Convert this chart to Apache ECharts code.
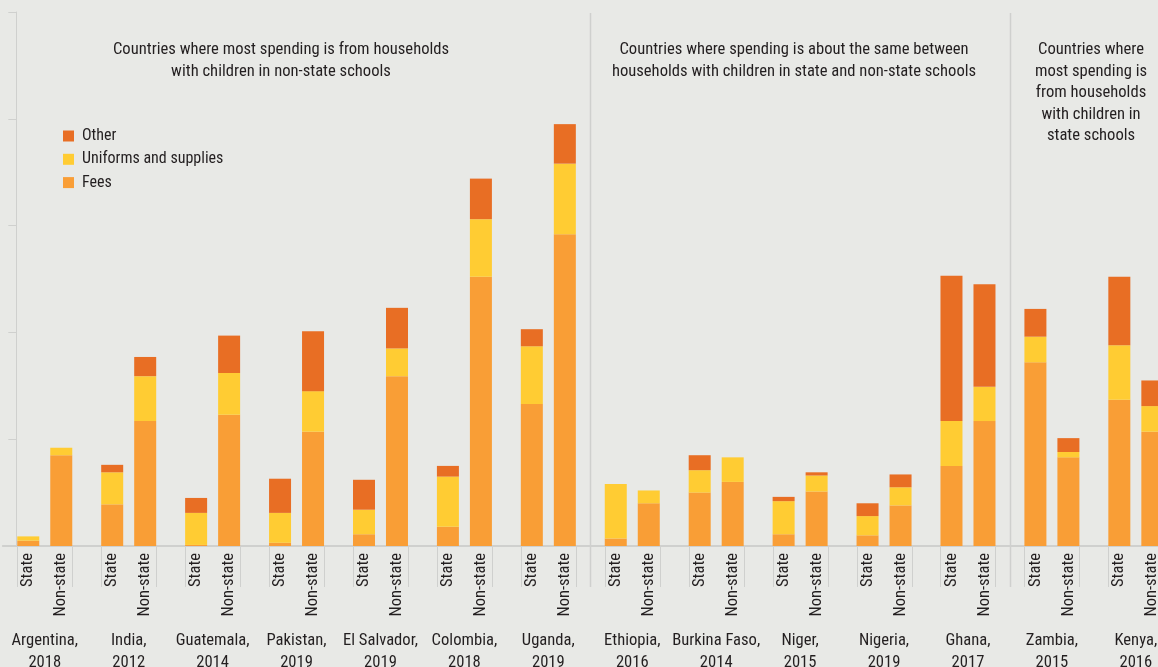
<!DOCTYPE html>
<html><head><meta charset="utf-8">
<script src="https://cdn.jsdelivr.net/npm/echarts@6/dist/echarts.min.js"></script>
<style>html,body{margin:0;padding:0;background:#e8e9e6;}#c{width:1158px;height:667px;}</style>
</head><body><div id="c"></div>
<script>
// ---------- DATA ----------
const countries = ['Argentina','India','Guatemala','Pakistan','El Salvador','Colombia','Uganda','Ethiopia','Burkina Faso','Niger','Nigeria','Ghana','Zambia','Kenya'];
const years = ['2018','2012','2014','2019','2019','2018','2019','2016','2014','2015','2019','2017','2015','2016'];
const schoolTypes = ['State','Non-state'];
const components = ['Fees','Uniforms and supplies','Other'];
const stateFees      = [0.05,0.39,0.01,0.03,0.11,0.18,1.33,0.07,0.50,0.11,0.10,0.75,1.72,1.37];
const stateUniforms  = [0.04,0.30,0.30,0.28,0.23,0.47,0.54,0.51,0.21,0.31,0.18,0.42,0.24,0.51];
const stateOther     = [0.00,0.07,0.14,0.32,0.28,0.10,0.16,0.00,0.14,0.04,0.12,1.36,0.26,0.64];
const nonStateFees     = [0.85,1.17,1.23,1.07,1.59,2.52,2.92,0.40,0.60,0.51,0.38,1.17,0.83,1.07];
const nonStateUniforms = [0.07,0.42,0.39,0.38,0.26,0.54,0.66,0.12,0.23,0.15,0.17,0.32,0.05,0.24];
const nonStateOther    = [0.00,0.18,0.35,0.56,0.38,0.38,0.37,0.00,0.00,0.03,0.12,0.96,0.13,0.24];
const yTicks = [0,1,2,3,4,5];
const sectionTitles = [
  'Countries where most spending is from households\nwith children in non-state schools',
  'Countries where spending is about the same between\nhouseholds with children in state and non-state schools',
  'Countries where\nmost spending is\nfrom households\nwith children in\nstate schools'
];
const sectionBreaks = [[6,7],[11,12]]; // separators between these category indices

// ---------- STYLE ----------
const FONT = "'Liberation Sans Narrow','Roboto Condensed','Liberation Sans',sans-serif";
const TXT = '#231f20';
const GRID_LINE = '#cfd0ce';
const colors = {'Fees':'#f99e36','Uniforms and supplies':'#ffcc33','Other':'#e86e24'};
const catLabels = countries.map((c,i)=>c+',\n'+years[i]);

const stateData = {'Fees':stateFees,'Uniforms and supplies':stateUniforms,'Other':stateOther};
const nonStateData = {'Fees':nonStateFees,'Uniforms and supplies':nonStateUniforms,'Other':nonStateOther};

function mkSeries(type, dataMap){
  return components.map(name => {
    const s = {
      name, type:'bar', stack:type, barWidth:22, barGap:'50%',
      data: dataMap[name],
      itemStyle:{color:colors[name]},
      emphasis:{disabled:true},
      animation:false
    };
    if (name === 'Fees') {
      s.label = {
        show:true, formatter:type, position:['50%','100%'], offset:[-7,0],
        rotate:90, align:'right', verticalAlign:'middle',
        color:TXT, fontSize:16.5, fontFamily:FONT
      };
    }
    return s;
  });
}

const chart = echarts.init(document.getElementById('c'), null, {renderer:'canvas'});
const option = {
  backgroundColor:'#e8e9e6',
  animation:false,
  grid:{left:2.8, top:12, width:1175, height:534, containLabel:false, outerBoundsMode:'none'},
  xAxis:{
    type:'category', data:catLabels,
    axisLine:{show:true, lineStyle:{color:GRID_LINE, width:2}},
    axisTick:{show:false},
    axisLabel:{interval:0, margin:84, color:TXT, fontSize:16.6, lineHeight:22, fontFamily:FONT}
  },
  yAxis:{
    type:'value', min:0, max:5, interval:1, offset:-13.5,
    axisLine:{show:true, lineStyle:{color:GRID_LINE, width:1}},
    axisTick:{show:true, length:8, lineStyle:{color:GRID_LINE, width:1}},
    axisLabel:{show:false},
    splitLine:{show:false}
  },
  legend:{
    orient:'vertical', left:63, top:128, padding:0, itemGap:7.3,
    itemWidth:11, itemHeight:11, icon:'rect', selectedMode:false,
    data:['Other','Uniforms and supplies','Fees'],
    textStyle:{color:TXT, fontSize:16, lineHeight:16, fontFamily:FONT, padding:[0,0,0,3]}
  },
  series:[...mkSeries(schoolTypes[0], stateData), ...mkSeries(schoolTypes[1], nonStateData)]
};
chart.setOption(option);

// decorations computed through the axis scales
const px = i => chart.convertToPixel({xAxisIndex:0}, i);
const y0 = chart.convertToPixel({yAxisIndex:0}, 0);
const yTop = chart.convertToPixel({yAxisIndex:0}, yTicks[yTicks.length-1]);
const half = 27.5;
const g = [];
countries.forEach((c,i)=>{
  const cx = px(i);
  [cx-half, cx+half].forEach(x=>{
    const xx = Math.round(x)+0.5;
    g.push({type:'line', shape:{x1:xx,y1:y0,x2:xx,y2:y0+41}, style:{stroke:GRID_LINE, lineWidth:1}, silent:true});
  });
});
const sepX = sectionBreaks.map(([a,b])=>(px(a)+px(b))/2);
sepX.forEach(x=>{
  const xx = Math.round(x)+0.5;
  g.push({type:'line', shape:{x1:xx,y1:yTop+1,x2:xx,y2:y0+41}, style:{stroke:GRID_LINE, lineWidth:1.5}, silent:true});
});
const titleX = [281, 794, 1091];
sectionTitles.forEach((t,i)=>{
  g.push({type:'text', x:titleX[i], y:39, silent:true,
    style:{text:t, fill:TXT, font:'16.6px '+FONT, textAlign:'center', textVerticalAlign:'top', lineHeight:i===2?21.6:22}});
});
chart.setOption({graphic:g});
</script>
</body></html>
